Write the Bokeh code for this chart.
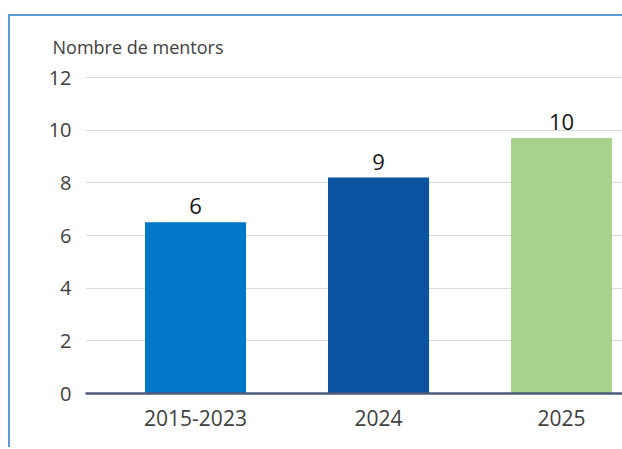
from bokeh.plotting import figure
from bokeh.models import ColumnDataSource, Range1d, FixedTicker
from bokeh.core.properties import value
from bokeh.embed import file_html
from bokeh.resources import INLINE

# ---- data ----
categories = ["2015-2023", "2024", "2025"]
bar_values = [6.5, 8.2, 9.7]
bar_labels = ["6", "9", "10"]
bar_colors = ["#0077C8", "#0B52A1", "#A9D18E"]
y_ticks = [0, 2, 4, 6, 8, 10, 12]

FONT = "Open Sans"

positions = list(range(len(categories)))
src = ColumnDataSource(dict(x=positions, top=bar_values, label=bar_labels, color=bar_colors))

W, H = 622, 447
FRAME_TOP = 76
FRAME_H = 317
p = figure(width=W, height=H, output_backend="svg", toolbar_location=None,
           x_range=Range1d(-0.601, 2.333), y_range=Range1d(0, 12.04),
           min_border_left=85, min_border_right=0, min_border_top=FRAME_TOP,
           min_border_bottom=H - FRAME_TOP - FRAME_H,
           title="Nombre de mentors")

p.border_fill_alpha = 0
p.background_fill_color = None
p.outline_line_color = None
p.styles = {
    "background": "linear-gradient(#5B9BD5,#5B9BD5) 8px 14px / 100% 2px no-repeat, "
                  "linear-gradient(#5B9BD5,#5B9BD5) 8px 14px / 2px 100% no-repeat",
}

p.title.text_font = FONT
p.title.text_font_size = "18px"
p.title.text_font_style = "normal"
p.title.text_color = "#404040"
p.title.align = "left"
p.title.offset = -33
p.title.standoff = 36

p.vbar(x="x", top="top", width=0.552, color="color", source=src, line_color=None)
p.text(x="x", y="top", text="label", source=src, y_offset=-8,
       text_align="center", text_baseline="bottom",
       text_font=value(FONT), text_font_size="22px", text_color="#141414")

# y axis
p.yaxis.ticker = FixedTicker(ticks=y_ticks)
p.yaxis.axis_line_color = None
p.yaxis.major_tick_line_color = None
p.yaxis.minor_tick_line_color = None
p.yaxis.major_label_standoff = 8
p.yaxis.major_label_text_font = FONT
p.yaxis.major_label_text_font_size = "20px"
p.yaxis.major_label_text_color = "#404040"

# x axis
p.xaxis.ticker = FixedTicker(ticks=positions)
p.xaxis.major_label_overrides = {i: c for i, c in zip(positions, categories)}
p.xaxis.axis_line_color = "#4D5B7C"
p.xaxis.axis_line_width = 2.5
p.xaxis.major_tick_line_color = None
p.xaxis.minor_tick_line_color = None
p.xaxis.major_label_standoff = 10
p.xaxis.major_label_text_font = FONT
p.xaxis.major_label_text_font_size = "21px"
p.xaxis.major_label_text_color = "#404040"

p.xgrid.grid_line_color = None
p.ygrid.grid_line_color = "#DADADA"
p.ygrid.grid_line_width = 1

open("out.html", "w").write(file_html(p, INLINE))
